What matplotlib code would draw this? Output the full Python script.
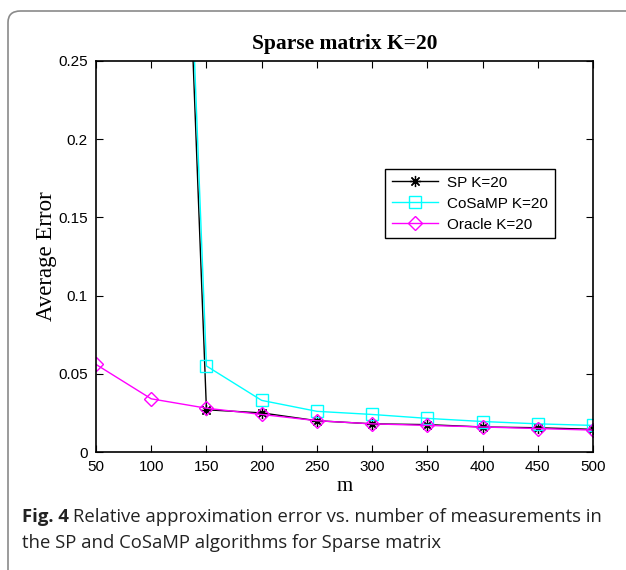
import numpy as np
import matplotlib.pyplot as plt
from matplotlib.patches import FancyBboxPatch

# measurements
m = [50, 100, 150, 200, 250, 300, 350, 400, 450, 500]

# average error per algorithm (first two SP/CoSaMP values are far above the axis)
sp_err = [0.98, 0.95, 0.027, 0.025, 0.020, 0.018, 0.0175, 0.016, 0.0155, 0.0145]
cosamp_err = [0.98, 0.96, 0.055, 0.033, 0.026, 0.024, 0.0215, 0.0195, 0.018, 0.017]
oracle_err = [0.056, 0.034, 0.028, 0.024, 0.020, 0.018, 0.017, 0.016, 0.015, 0.014]

x_ticks = [50, 100, 150, 200, 250, 300, 350, 400, 450, 500]
y_ticks = [0, 0.05, 0.1, 0.15, 0.2, 0.25]
y_tick_labels = ["0", "0.05", "0.1", "0.15", "0.2", "0.25"]

fig = plt.figure(figsize=(6.26, 5.70), dpi=100)

# grey rounded frame around the figure (cut off on right and bottom)
frame = FancyBboxPatch((8 / 626, -0.1), 1.2, 1.1 - 11 / 570,
                       boxstyle="round,pad=0,rounding_size=0.02",
                       transform=fig.transFigure, fill=False,
                       edgecolor="#8a8a8a", linewidth=1.2)
fig.patches.append(frame)

ax = fig.add_axes([96 / 626, 1 - 452 / 570, 497 / 626, 391 / 570])

# matlab style asterisk: 8 arms
ax.plot(m, sp_err, color="black", marker=(8, 2, 0), markersize=8, lw=1,
        markeredgewidth=0.9, label="SP K=20")
ax.plot(m, cosamp_err, color="cyan", marker="s", markersize=8, lw=1,
        markerfacecolor="none", label="CoSaMP K=20")
ax.plot(m, oracle_err, color="magenta", marker="D", markersize=7, lw=1,
        markerfacecolor="none", label="Oracle K=20")

ax.set_xlim(50, 500)
ax.set_ylim(0, 0.25)
ax.set_xticks(x_ticks)
ax.set_yticks(y_ticks)
ax.set_yticklabels(y_tick_labels)
ax.tick_params(direction="in", top=True, right=True, length=5,
               labelsize=11, pad=6)
for lab in ax.get_xticklabels() + ax.get_yticklabels():
    lab.set_family("Liberation Sans")
for s in ax.spines.values():
    s.set_linewidth(1.2)

ax.set_title("Sparse matrix K=20", family="Liberation Serif",
             fontweight="bold", fontsize=15.5, pad=9)
ax.set_xlabel("m", family="Liberation Serif", fontsize=15, labelpad=2)
ax.set_ylabel("Average Error", family="Liberation Serif", fontsize=16.5,
              labelpad=1)

leg = ax.legend(loc="upper left", bbox_to_anchor=(0.5815, 0.724),
                borderaxespad=0,
                prop={"family": "Liberation Sans", "size": 11},
                fancybox=False, framealpha=1, edgecolor="black",
                handlelength=3.0, handletextpad=0.6,
                borderpad=0.45, labelspacing=0.45)
leg.get_frame().set_linewidth(1.0)

# caption: bold "Fig. 4" then the rest of the sentence
cap_color = "#222222"
cap_size = 13.3
y1 = 1 - 517 / 570
t_bold = fig.text(22 / 626, y1, "Fig. 4", family="Open Sans",
                  fontweight="bold", fontsize=cap_size, color=cap_color,
                  va="center")
fig.canvas.draw()
bb = t_bold.get_window_extent(renderer=fig.canvas.get_renderer())
x_after = (bb.x1 + 4) / fig.bbox.width
fig.text(x_after, y1,
         "Relative approximation error vs. number of measurements in",
         family="Open Sans", fontsize=cap_size, color=cap_color, va="center")
fig.text(22 / 626, 1 - 543 / 570,
         "the SP and CoSaMP algorithms for Sparse matrix",
         family="Open Sans", fontsize=cap_size, color=cap_color, va="center")

fig.savefig("out.png", dpi=100)
